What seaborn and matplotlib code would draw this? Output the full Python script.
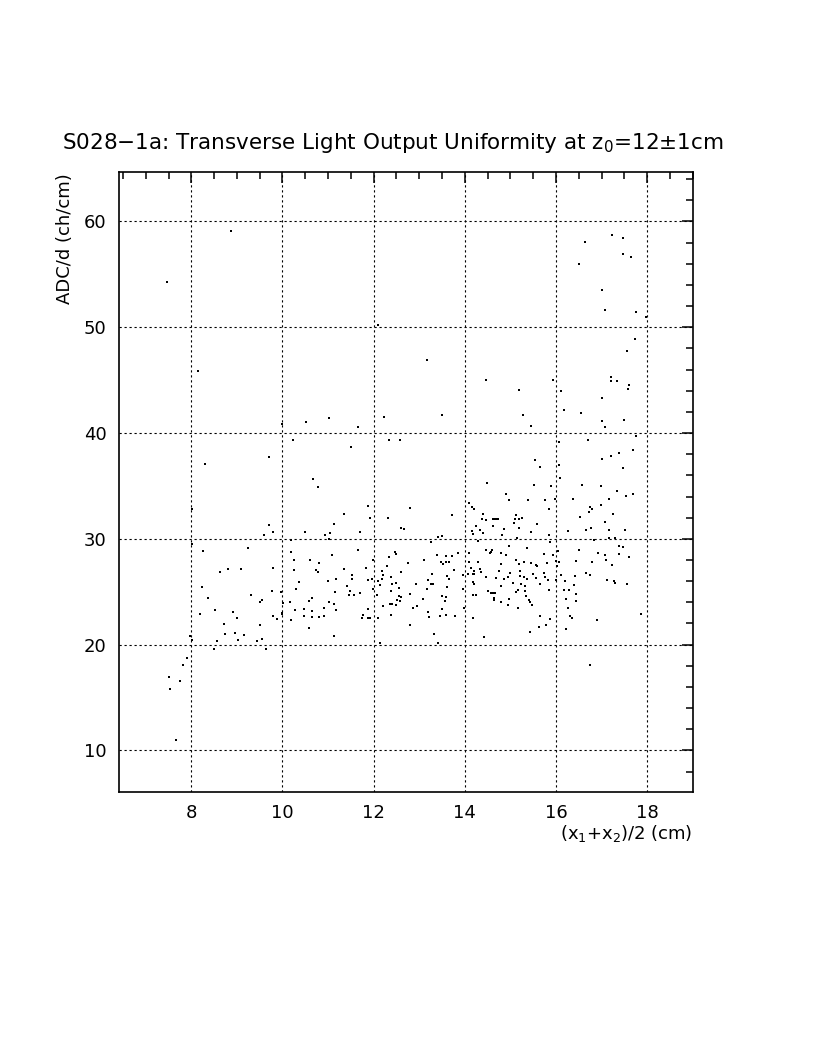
import matplotlib
matplotlib.use("Agg")
import matplotlib.pyplot as plt
from matplotlib.ticker import MultipleLocator
import pandas as pd
import seaborn as sns

# transverse position (x1+x2)/2 in cm
pos = [
    8.87, 7.46, 8.15, 12.09, 13.18, 14.47,
    # upper right tail
    17.22, 17.47, 16.63, 17.46, 17.65, 16.50, 17.02, 17.08, 17.75, 17.97,
    17.74, 17.55, 15.93, 17.21, 17.20, 17.35, 15.19, 16.12, 17.61, 17.57,
    17.02, 16.17, 16.56, 15.27, 17.00, 17.07, 17.49, 15.46, 17.75, 16.06,
    16.70, 17.70, 17.38, 17.20, 17.00, 15.53, 15.65, 16.07, 17.46,
    # right band
    16.09, 15.52, 15.90, 16.57, 16.98, 17.33, 14.91, 14.97, 15.38, 15.77,
    15.97, 16.38, 17.16, 17.53, 17.70, 16.74, 16.80, 16.98, 15.85, 16.72,
    17.25, 16.53, 14.66, 14.71, 15.12, 15.10, 15.20, 15.25, 17.08, 15.58,
    15.08, 15.18, 14.87, 15.45, 16.26, 16.67, 16.76, 17.17, 17.51, 14.82,
    15.15, 15.85, 15.88, 16.83, 17.16, 17.30, 17.38, 17.46, 14.98, 15.37,
    14.57, 16.04, 16.50, 16.93, 17.08, 17.38, 17.60, 14.79, 14.90, 15.73,
    15.93, 15.12, 15.30, 15.20, 15.46, 15.56, 15.58, 15.81, 16.01, 16.02,
    16.07, 16.43, 16.80, 17.10, 17.22, 14.80, 15.22, 14.76, 15.00, 14.69,
    14.87, 14.95, 15.05, 15.22, 15.30, 15.37, 15.49, 15.56, 15.64, 15.74,
    15.77, 15.82, 16.00, 16.12, 16.20, 16.41, 16.67, 16.74, 17.13, 17.28,
    17.29, 17.55, 15.23, 15.33, 14.79, 15.17, 15.12, 15.33, 15.85, 16.17,
    16.29, 16.39, 14.58, 14.67, 16.45, 15.34, 14.63, 14.79, 14.96, 14.94,
    15.41, 15.44, 15.48, 16.22, 16.44, 15.17, 16.26, 16.30, 16.35, 15.64,
    15.86, 15.79, 15.63, 15.44, 16.23, 16.89, 17.86, 16.75,
    # left part
    10.51, 9.98, 10.24, 9.71, 8.30, 10.67,
    10.78, 8.01, 9.71, 9.60, 9.80, 10.50, 8.01, 8.26, 9.25, 10.18,
    10.19, 10.61, 10.80, 10.25, 10.25, 8.63, 8.80, 9.09, 9.80, 10.73,
    10.78, 10.36, 8.23, 10.30, 9.76, 9.97, 9.31, 8.37, 9.56, 9.51,
    10.64, 10.59, 10.02, 10.17, 10.47, 10.64, 10.28, 8.51, 8.91, 9.99,
    9.99, 8.20, 9.00, 9.79, 9.88, 10.47, 10.64, 10.80, 10.18, 10.58,
    9.51, 8.72, 8.95, 8.74, 9.16, 7.98, 8.01, 8.56, 9.03, 9.45,
    9.56, 8.50, 9.63, 7.91, 7.82, 7.51, 7.75, 7.54, 7.66,
    # middle
    11.02, 11.65, 12.23, 13.49, 12.34, 12.58, 11.51,
    14.48, 11.87, 12.80, 14.10, 14.15, 14.20, 11.35, 11.93, 12.32, 13.73,
    14.40, 14.37, 14.47, 14.61, 14.73, 11.14, 14.25, 14.62, 12.60, 12.67,
    10.93, 11.05, 11.03, 11.71, 14.15, 14.17, 14.34, 14.39, 13.49, 13.41,
    13.26, 14.29, 11.65, 12.47, 12.49, 14.09, 13.39, 13.58, 13.71, 13.84,
    14.46, 14.59, 14.56, 11.09, 11.99, 12.34, 13.11, 13.47, 13.58, 13.65,
    13.52, 12.29, 12.75, 14.10, 14.29, 11.35, 11.83, 12.18, 12.21, 12.19,
    12.61, 13.77, 14.14, 14.20, 14.34, 14.35, 14.06, 14.17, 14.21, 13.96,
    11.52, 13.61, 13.65, 13.27, 14.47, 12.37, 11.18, 10.99, 11.53, 11.88,
    11.96, 12.09, 12.48, 12.41, 12.92, 13.19, 13.25, 13.30, 14.17, 14.21,
    11.41, 12.14, 12.56, 11.99, 13.18, 13.60, 13.96, 11.15, 11.48, 14.51,
    14.62, 11.45, 11.57, 11.71, 12.07, 12.37, 12.56, 12.61, 12.79, 13.58,
    14.18, 14.24, 11.02, 11.13, 12.51, 12.58, 13.08, 13.49, 13.57, 14.65,
    10.91, 10.90, 11.18, 12.21, 12.35, 12.41, 12.50, 12.86, 12.96, 11.87,
    13.50, 13.58, 13.98, 11.76, 11.75, 11.88, 11.93, 12.09, 12.39, 13.21,
    13.19, 13.45, 13.79, 14.18, 12.80, 13.32, 11.13, 14.43, 12.13, 13.41,
]

# ADC / d in ch/cm, same order as pos
adc = [
    59.10, 54.30, 45.90, 50.20, 46.86, 44.97,
    58.73, 58.40, 58.10, 56.90, 56.60, 56.00, 53.50, 51.60, 51.40, 51.00,
    48.90, 47.80, 44.97, 45.30, 44.90, 44.90, 44.10, 43.96, 44.50, 44.15,
    43.27, 42.16, 41.85, 41.66, 41.10, 40.60, 41.20, 40.68, 39.70, 39.17,
    39.36, 38.35, 38.07, 37.80, 37.50, 37.47, 36.80, 36.94, 36.68,
    35.77, 35.05, 35.00, 35.08, 35.00, 34.50, 34.20, 33.70, 33.66, 33.66,
    33.75, 33.80, 33.78, 34.04, 34.20, 32.97, 32.78, 33.16, 32.80, 32.50,
    32.33, 32.08, 31.90, 31.90, 32.27, 31.90, 31.86, 32.00, 31.57, 31.36,
    31.45, 31.04, 30.95, 30.63, 30.76, 30.82, 31.06, 30.79, 30.79, 30.32,
    30.06, 30.32, 29.66, 29.88, 30.07, 30.11, 29.34, 29.22, 29.34, 29.12,
    28.77, 28.84, 28.96, 28.67, 28.49, 28.58, 28.27, 28.62, 28.43, 28.56,
    28.46, 28.02, 27.80, 27.64, 27.70, 27.54, 27.39, 27.67, 27.86, 27.39,
    27.77, 27.92, 27.77, 27.99, 27.49, 27.60, 26.98, 26.95, 26.73, 26.29,
    26.22, 26.41, 25.84, 26.48, 26.41, 26.22, 26.69, 26.31, 25.72, 26.73,
    26.35, 26.10, 26.10, 26.54, 26.03, 26.50, 26.76, 26.57, 26.07, 26.03,
    25.84, 25.75, 25.72, 25.53, 25.56, 25.12, 24.96, 25.03, 25.12, 25.12,
    25.12, 25.62, 24.87, 24.84, 24.80, 24.58, 24.20, 24.05, 24.27, 23.70,
    24.20, 24.00, 23.73, 24.30, 24.14, 23.42, 23.42, 22.69, 22.50, 22.72,
    22.38, 21.81, 21.63, 21.23, 21.44, 22.29, 22.85, 18.04,
    41.00, 40.87, 39.30, 37.69, 37.09, 35.64,
    34.92, 32.78, 31.32, 30.38, 30.60, 30.60, 29.50, 28.81, 29.09, 29.88,
    28.77, 27.96, 27.68, 27.96, 27.07, 26.82, 27.14, 27.11, 27.20, 27.07,
    26.85, 25.88, 25.44, 25.22, 25.03, 24.93, 24.65, 24.37, 24.23, 24.00,
    24.37, 24.08, 23.90, 23.99, 23.36, 23.17, 23.23, 23.23, 23.07, 23.00,
    22.88, 22.85, 22.53, 22.69, 22.38, 22.72, 22.60, 22.57, 22.29, 21.53,
    21.82, 21.91, 21.12, 20.97, 20.87, 20.83, 20.43, 20.30, 20.43, 20.33,
    20.49, 19.55, 19.55, 18.75, 18.03, 16.93, 16.52, 15.77, 11.00,
    41.44, 40.56, 41.50, 41.66, 39.30, 39.30, 38.64,
    35.24, 33.09, 32.90, 33.35, 33.03, 32.78, 32.30, 31.96, 32.00, 32.24,
    32.30, 31.83, 31.77, 31.90, 31.90, 31.39, 31.20, 31.20, 30.98, 30.89,
    30.38, 30.54, 29.97, 30.63, 30.76, 30.42, 30.82, 30.51, 30.28, 30.13,
    29.69, 29.81, 28.90, 28.77, 28.55, 28.62, 28.46, 28.34, 28.37, 28.62,
    28.93, 28.93, 28.65, 28.43, 28.02, 28.24, 27.96, 27.83, 27.80, 27.80,
    27.58, 27.45, 27.68, 27.77, 27.77, 27.11, 27.20, 26.95, 26.54, 26.22,
    26.82, 27.04, 27.20, 26.98, 27.11, 26.88, 26.66, 26.63, 26.63, 26.57,
    26.57, 26.50, 26.22, 26.63, 26.35, 26.41, 26.16, 26.00, 26.19, 26.10,
    26.16, 26.00, 25.81, 25.72, 25.75, 26.07, 25.75, 25.69, 25.88, 25.75,
    25.53, 25.60, 25.34, 25.28, 25.28, 25.47, 25.25, 25.00, 25.06, 25.03,
    24.87, 24.65, 24.65, 24.87, 24.71, 25.03, 24.56, 24.52, 24.75, 24.52,
    24.68, 24.65, 24.04, 23.85, 24.23, 24.08, 24.27, 24.58, 24.11, 24.37,
    23.48, 22.69, 23.26, 23.64, 23.80, 23.83, 23.70, 23.48, 23.64, 23.36,
    23.36, 22.81, 23.48, 22.81, 22.53, 22.53, 22.53, 22.50, 22.78, 22.63,
    23.05, 22.69, 22.69, 22.53, 21.82, 20.99, 20.80, 20.71, 20.17, 20.11,
]

x_ticks = [8, 10, 12, 14, 16, 18]
y_ticks = [10, 20, 30, 40, 50, 60]

df = pd.DataFrame({"pos": pos, "adc": adc})

sns.set_theme(style="white")
plt.rcParams["font.family"] = ["DejaVu Sans"]
plt.rcParams["mathtext.default"] = "regular"
plt.rcParams["text.color"] = "black"

fig = plt.figure(figsize=(8.16, 10.56), dpi=100)
ax = fig.add_axes([0.1462, 0.2503, 0.7027, 0.5871])

sns.scatterplot(data=df, x="pos", y="adc", ax=ax, marker="s", s=1.6,
                color="black", linewidth=0, legend=False)

ax.set_xlim(6.42, 19.0)
ax.set_ylim(6.1, 64.7)
ax.set_xticks(x_ticks)
ax.set_yticks(y_ticks)
ax.xaxis.set_minor_locator(MultipleLocator(0.5))
ax.yaxis.set_minor_locator(MultipleLocator(2))
ax.tick_params(which="both", direction="in", top=True, right=True,
               colors="black", labelsize=13, width=1.1)
ax.tick_params(which="major", length=8, pad=9)
ax.tick_params(which="minor", length=5)
ax.grid(True, which="major", color="black", linestyle=(0, (2, 2.5)),
        linewidth=0.8)
for sp in ax.spines.values():
    sp.set_color("black")
    sp.set_linewidth(1.2)

ax.set_xlabel("")
ax.set_ylabel("")
fig.text(0.849, 1 - 834 / 1056, "(x$_1$+x$_2$)/2 (cm)", ha="right",
         va="center", fontsize=13, color="black")
fig.text(65 / 816, 1 - 173 / 1056, "ADC/d (ch/cm)", rotation=90,
         ha="center", va="top", fontsize=13, color="black")
fig.text(393 / 816, 1 - 143 / 1056,
         "S028\u22121a: Transverse Light Output Uniformity at z$_0$=12\u00b11cm",
         ha="center", va="center", fontsize=15.5, color="black")

fig.savefig("out.png", dpi=100)
